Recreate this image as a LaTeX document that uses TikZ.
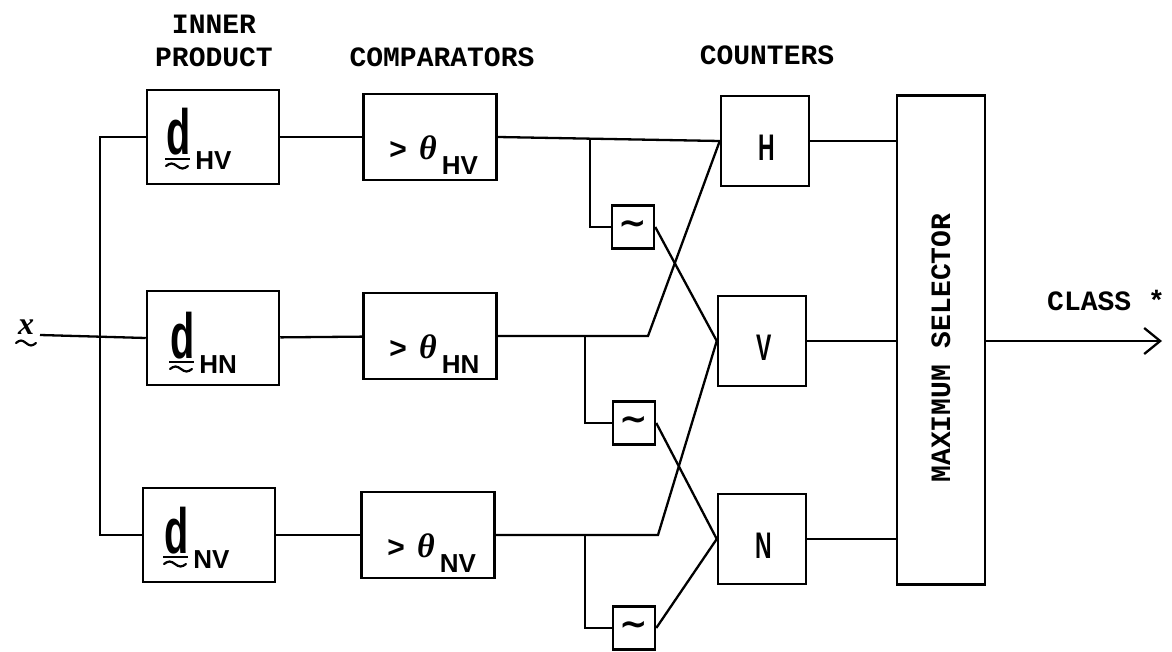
\documentclass[tikz,border=0pt]{standalone}
\usepackage{fontspec}
\usetikzlibrary{arrows.meta}
\newfontfamily\tw{Liberation Mono}
\newfontfamily\nsf{Liberation Sans}[FakeStretch=0.62]
\newfontfamily\ssf{Liberation Sans}
\newfontfamily\grk{Liberation Serif}
\newfontfamily\dv{DejaVu Sans}
\newcommand\subf[1]{{\ssf\bfseries\fontsize{26}{26}\selectfont #1}}
\newcommand\tld[1]{{\dv\bfseries\fontsize{#1}{#1}\selectfont ∼}}
\newcommand\dlab[1]{{\nsf\bfseries\fontsize{64}{64}\selectfont d}\kern5pt\raisebox{-15pt}{\subf{#1}}}
\newcommand\clab[1]{{\tw\bfseries\fontsize{30}{30}\selectfont>}\kern12pt{\grk\bfseries\itshape\fontsize{34}{34}\selectfont θ}\kern5pt\raisebox{-15pt}{\subf{#1}}}
\begin{document}
\begin{tikzpicture}[x=1pt,y=-1pt,line width=2.3pt,
  dbox/.style={draw,line width=2.5pt,minimum width=132pt,minimum height=94pt,inner sep=0pt},
  cbox/.style={draw,line width=2.5pt,minimum width=133pt,minimum height=86pt,inner sep=0pt},
  kbox/.style={draw,line width=2.5pt,minimum width=88pt,minimum height=90pt,inner sep=0pt},
  tbox/.style={draw,line width=2.5pt,minimum width=42pt,minimum height=43pt,inner sep=0pt},
  head/.style={font=\tw\bfseries\fontsize{28}{30}\selectfont,inner sep=0pt},
  lab/.style={inner sep=0pt,anchor=base west},
  klab/.style={inner sep=0pt,font=\nsf\bfseries\fontsize{37}{37}\selectfont},
  wire/.style={line width=2.3pt},
  uline/.style={line width=2.6pt},
  vtil/.style={line width=2.2pt,line cap=round}]
\useasboundingbox (0,0) rectangle (1172,652);
% headings
\node[head] (h1) at (214,24) {INNER};
\node[head] (h2) at (214,57) {PRODUCT};
\node[head] (h3) at (442,57) {COMPARATORS};
\node[head] (h4) at (767,55) {COUNTERS};
% inner product boxes
\node[dbox] (d1) at (213,137) {};
\node[dbox] (d2) at (213,338) {};
\node[dbox] (d3) at (209,535) {};
\node[lab] (ld1) at (165,155) {\dlab{HV}};
\node[lab] (ld2) at (169,358) {\dlab{HN}};
\node[lab] (ld3) at (163,553) {\dlab{NV}};
\foreach \n in {ld1,ld2,ld3}{
  \draw[uline] ([shift={(0,4)}]\n.base west) -- ++(25,0);
  \draw[vtil] ([shift={(1,11)}]\n.base west) sin ++(5.5,-2.5) cos ++(5.5,2.5) sin ++(5.5,2.5) cos ++(5.5,-2.5);
}
% comparators
\node[cbox] (c1) at (430,137) {};
\node[cbox] (c2) at (430,336) {};
\node[cbox] (c3) at (428,535) {};
\node[lab] (lc1) at (388,160) {\clab{HV}};
\node[lab] (lc2) at (388,358) {\clab{HN}};
\node[lab] (lc3) at (386,557) {\clab{NV}};
% inverters
\node[tbox] (t1) at (633,227) {\tld{34}};
\node[tbox] (t2) at (634,423) {\tld{34}};
\node[tbox] (t3) at (634,628) {\tld{34}};
% counters
\node[kbox] (k1) at (765,141) {};
\node[kbox] (k2) at (762,341) {};
\node[kbox] (k3) at (762,539) {};
\node[klab] (lk1) at (767,148) {H};
\node[klab] (lk2) at (764,348) {V};
\node[klab] (lk3) at (764,546) {N};
% maximum selector
\node[draw,line width=2.5pt,minimum width=88pt,minimum height=489pt,inner sep=0pt] (m) at (941,340) {};
\node[head,rotate=90] (lm) at (941,348) {MAXIMUM SELECTOR};
% input
\node[inner sep=0pt,anchor=base west] (x) at (17,334) {\grk\bfseries\itshape\fontsize{32}{32}\selectfont x};
\draw[vtil] ([shift={(-1,9)}]x.base west) sin ++(5,-2.5) cos ++(5,2.5) sin ++(5,2.5) cos ++(5,-2.5);
\coordinate (in) at (40,335);
\draw[wire] (in) -- (d2.west);
\draw[wire] (d1.west) -- ++(-46,0) |- (d3.west);
% inner product -> comparators
\draw[wire] (d1) -- (c1);
\draw[wire] (d2) -- (c2);
\draw[wire] (d3) -- (c3);
% comparators -> counters
\coordinate (j2) at (648,336);
\coordinate (j3) at (658,535);
\draw[wire] (c1.east) -- (k1.west);
\draw[wire] (c2.east) -- (j2) -- (k1.west);
\draw[wire] (c3.east) -- (j3) -- (k2.west);
% taps to inverters
\coordinate (tap1) at (590,139);
\coordinate (tap2) at (585,336);
\coordinate (tap3) at (585,535);
\draw[wire] (tap1) |- (t1.west);
\draw[wire] (tap2) |- (t2.west);
\draw[wire] (tap3) |- (t3.west);
\draw[wire] (t1.east) -- (k2.west);
\draw[wire] (t2.east) -- (k3.west);
\draw[wire] (t3.east) -- (k3.west);
% counters -> max selector
\draw[wire] (k1.east) -- (k1.east -| m.west);
\draw[wire] (k2.east) -- (k2.east -| m.west);
\draw[wire] (k3.east) -- (k3.east -| m.west);
% output
\coordinate (out) at (1162,341);
\draw[wire,-{Straight Barb[length=16pt,width=26pt,line width=2.3pt]}] (m.east |- k2.east) -- (out);
\node[head] (cls) at (1106,300) {CLASS *};
\end{tikzpicture}
\end{document}
